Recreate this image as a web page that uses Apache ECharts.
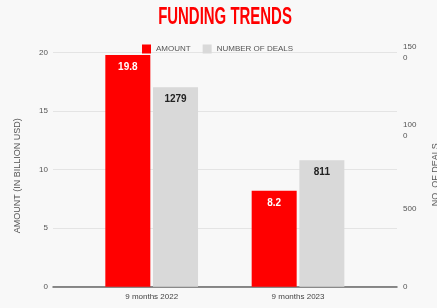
<!DOCTYPE html>
<html><head><meta charset="utf-8">
<script src="https://cdn.jsdelivr.net/npm/echarts@6/dist/echarts.min.js"></script>
<style>html,body{margin:0;padding:0;background:#f8f8f8}#c{width:437px;height:308px}</style>
</head><body><div id="c"></div>
<script>
const categories = ['9 months 2022', '9 months 2023'];
const amount = [19.8, 8.2];
const deals = [1279, 811];
const leftTicks = [0, 5, 10, 15, 20];
const rightTickLabels = {0: '0', 500: '500', 1000: '100\n0', 1500: '150\n0'};

const SANS = 'Arial, "Liberation Sans", sans-serif';
const chart = echarts.init(document.getElementById('c'));
const gridTop = 52.7, gridBottom = 308 - 286.7;
chart.setOption({
  backgroundColor: '#f8f8f8',
  animation: false,
  graphic: [{
    type: 'text', x: 225, y: 17.5, scaleX: 0.65, scaleY: 1.05,
    style: { text: 'FUNDING TRENDS', fill: '#ff0000', font: 'bold 23px Arial, "Liberation Sans", sans-serif', textAlign: 'center', textVerticalAlign: 'middle' }
  }],
  legend: {
    top: 39.5, left: 137, itemWidth: 9, itemHeight: 9, itemGap: 12,
    icon: 'rect',
    textStyle: { fontFamily: SANS, fontSize: 8, color: '#555', padding: [0, 0, 0, 0] },
    data: ['AMOUNT', 'NUMBER OF DEALS']
  },
  grid: [
    { left: 53, right: 40, top: gridTop, bottom: gridBottom, containLabel: false, outerBoundsMode: 'none' },
    { left: 78.5, right: 65.8, top: gridTop, bottom: gridBottom, containLabel: false, outerBoundsMode: 'none' }
  ],
  xAxis: [
    { type: 'category', gridIndex: 0, data: [''], axisLine: { lineStyle: { color: '#666', width: 1.5 } }, axisTick: { show: false }, axisLabel: { show: false } },
    { type: 'category', gridIndex: 1, data: categories, axisLine: { show: false }, axisTick: { show: false },
      axisLabel: { fontFamily: SANS, fontSize: 8, color: '#444', margin: 6 } }
  ],
  yAxis: [
    { type: 'value', gridIndex: 0, min: leftTicks[0], max: leftTicks[leftTicks.length - 1], interval: 5,
      name: 'AMOUNT (IN BILLION USD)', nameLocation: 'middle', nameGap: 31,
      nameTextStyle: { fontFamily: SANS, fontSize: 9, color: '#555', padding: [0, 12, 0, 0] },
      axisLine: { show: false }, axisTick: { show: false },
      axisLabel: { fontFamily: SANS, fontSize: 8, color: '#555', margin: 5 },
      splitLine: { lineStyle: { color: '#e4e4e4' } } },
    { type: 'value', gridIndex: 0, position: 'right', min: 0, max: 1500, interval: 500,
      name: 'NO. OF DEALS', nameLocation: 'middle', nameGap: 34, nameRotate: 90,
      nameTextStyle: { fontFamily: SANS, fontSize: 9, color: '#555', padding: [0, 10, 0, 0] },
      axisLine: { show: false }, axisTick: { show: false },
      axisLabel: { fontFamily: SANS, fontSize: 8, color: '#555', margin: 6, align: 'left', lineHeight: 11,
        formatter: v => rightTickLabels[v] },
      splitLine: { show: false } },
    { type: 'value', gridIndex: 1, min: 0, max: 20, show: false },
    { type: 'value', gridIndex: 1, min: 0, max: 1500, show: false }
  ],
  series: [
    { name: 'AMOUNT', type: 'bar', xAxisIndex: 1, yAxisIndex: 2, data: amount, barWidth: 45, barGap: '6%',
      itemStyle: { color: '#ff0000' },
      label: { show: true, position: 'insideTop', distance: 7, color: '#fff', fontWeight: 'bold', fontSize: 10, fontFamily: SANS } },
    { name: 'NUMBER OF DEALS', type: 'bar', xAxisIndex: 1, yAxisIndex: 3, data: deals, barWidth: 45, barGap: '6%',
      itemStyle: { color: '#d9d9d9' },
      label: { show: true, position: 'insideTop', distance: 7, color: '#222', fontWeight: 'bold', fontSize: 10, fontFamily: SANS } }
  ]
});
</script></body></html>
